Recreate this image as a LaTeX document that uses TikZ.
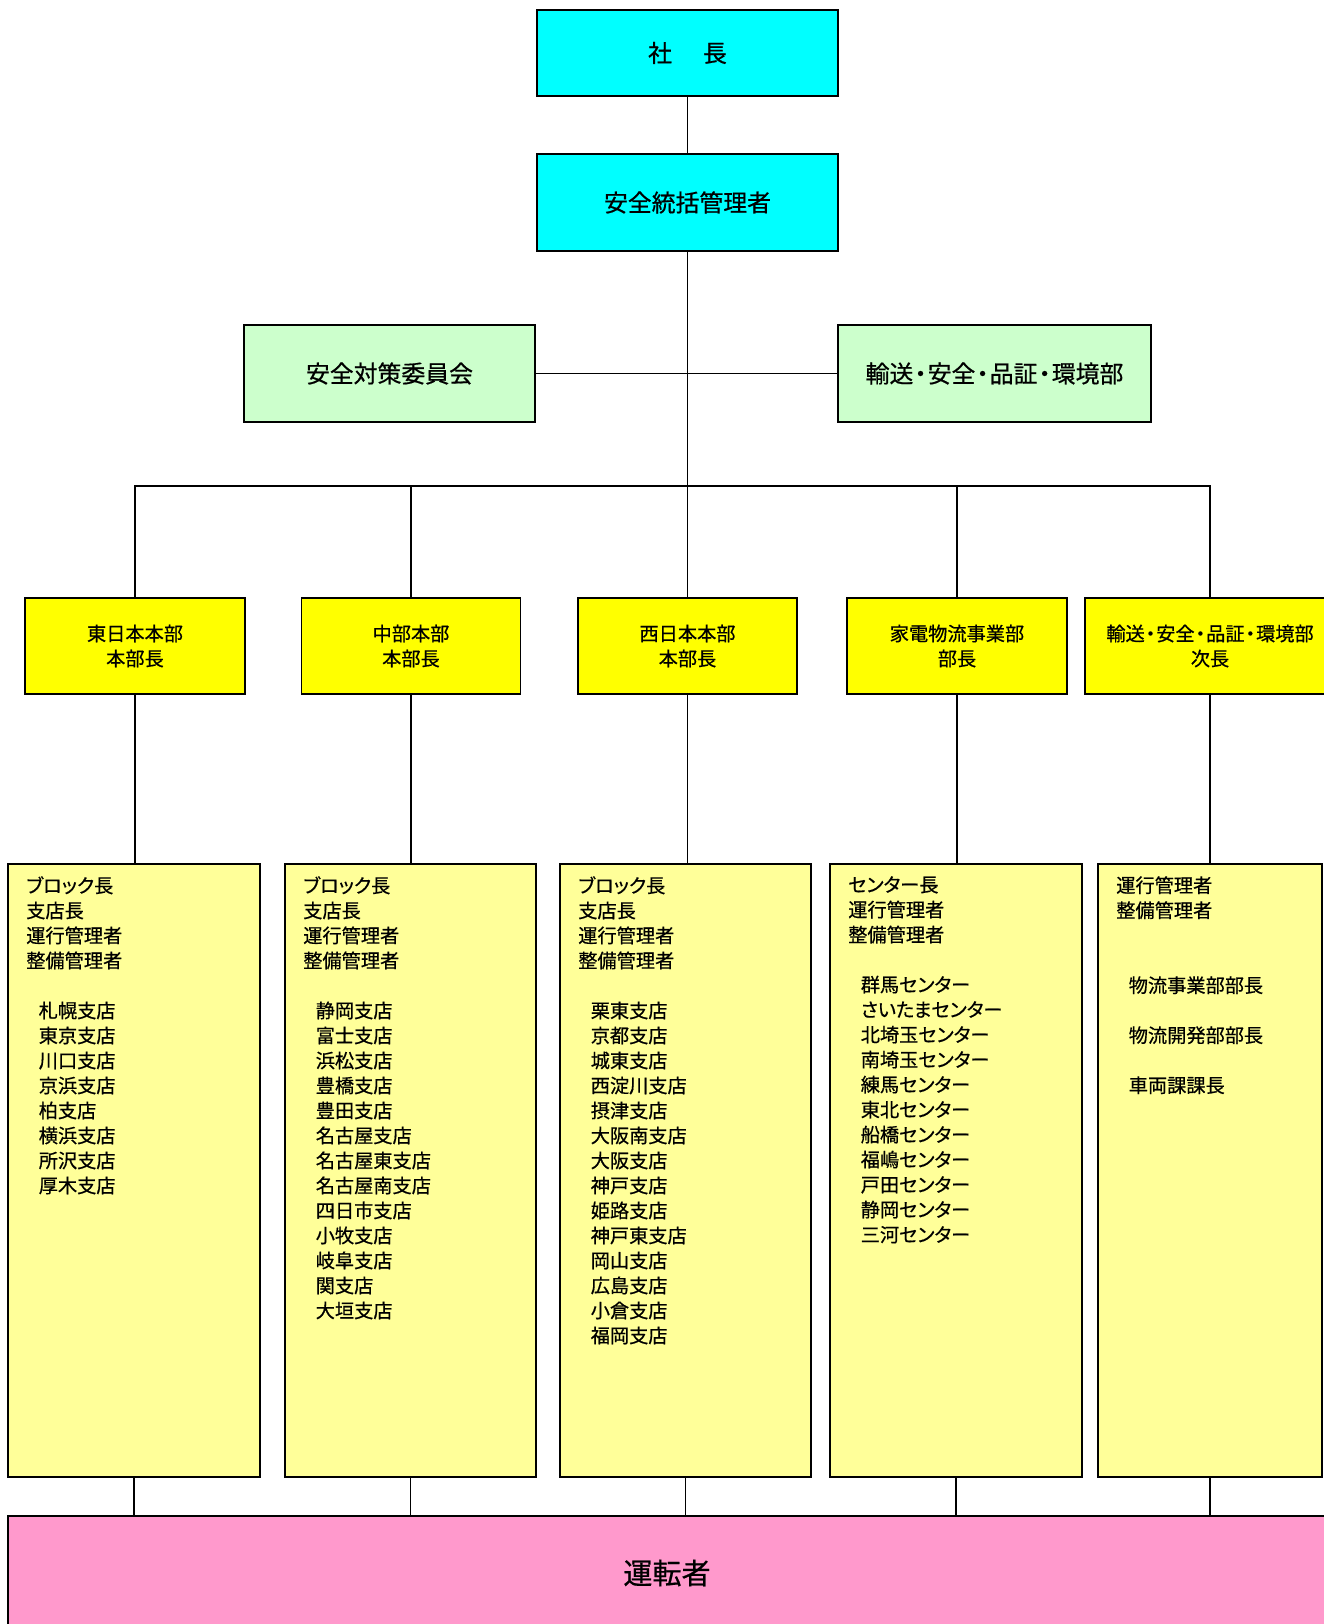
\documentclass[tikz,border=0pt]{standalone}
\usepackage{fontspec}
\setmainfont{Noto Sans CJK JP}[FakeBold=0.6, RawFeature=+palt]
\newlength{\pxu}\setlength{\pxu}{0.75pt}
\newcommand{\indt}{\hspace*{12.5\pxu}}
\newcommand{\skipline}{\\[18.75pt]}
\newcommand{\mdot}{\kern0.05em・\kern0.05em}

\begin{document}
\begin{tikzpicture}[x=0.75pt, y=-0.75pt,
  box/.style={draw, line width=1.2pt, inner sep=0pt, outer sep=0pt},
  topbox/.style={box, fill=topcyan, font=\fontsize{17.9}{22}\selectfont},
  sidebox/.style={box, fill=sidegreen, font=\fontsize{17.9}{22}\selectfont},
  headbox/.style={box, fill=headyellow, align=center, minimum height=96\pxu, font=\fontsize{14.4}{18.75}\selectfont},
  listbox/.style={box, fill=listyellow, minimum height=613\pxu},
  listtext/.style={anchor=north west, inner sep=0pt, align=left, font=\fontsize{14.4}{18.75}\selectfont},
  conn/.style={line width=0.9pt},
  busline/.style={line width=1.3pt}]

\definecolor{topcyan}{rgb}{0,1,1}
\definecolor{sidegreen}{rgb}{0.8,1,0.8}
\definecolor{headyellow}{rgb}{1,1,0}
\definecolor{listyellow}{rgb}{1,1,0.6}
\definecolor{driverpink}{rgb}{1,0.6,0.8}

\useasboundingbox (0,0) rectangle (1324,1624);

\node[topbox, minimum width=301\pxu, minimum height=86\pxu] (shacho) at (687.5,53) {社\hspace{1.3em}長};
\node[topbox, minimum width=301\pxu, minimum height=97\pxu] (tokatsu) at (687.5,202.5) {安全統括管理者};

\node[sidebox, minimum width=291\pxu, minimum height=97\pxu] (iinkai) at (389.5,373.5) {安全対策委員会};
\node[sidebox, minimum width=313\pxu, minimum height=97\pxu] (kankyo) at (994.5,373.5) {輸送\mdot{}安全\mdot{}品証\mdot{}環境部};

\coordinate (bus) at (687.5,486);

\node[headbox, minimum width=220\pxu] (higashi) at (135,646) {東日本本部\\本部長};
\node[headbox, minimum width=219\pxu] (chubu) at (411,646) {中部本部\\本部長};
\node[headbox, minimum width=219\pxu] (nishi) at (687.5,646) {西日本本部\\本部長};
\node[headbox, minimum width=220\pxu] (kaden) at (957,646) {家電物流事業部\\部長};
\node[headbox, minimum width=250\pxu] (jicho) at (1210,646) {輸送\mdot{}安全\mdot{}品証\mdot{}環境部\\次長};

\node[listbox, minimum width=252\pxu] (higashilist) at (134,1170.5) {};
\node[listbox, minimum width=251\pxu] (chubulist) at (410.5,1170.5) {};
\node[listbox, minimum width=251\pxu] (nishilist) at (685.5,1170.5) {};
\node[listbox, minimum width=252\pxu] (kadenlist) at (956,1170.5) {};
\node[listbox, minimum width=224\pxu] (jicholist) at (1210,1170.5) {};

\node[listtext] (higashitext) at ([shift={(18,12)}]higashilist.north west) {ブロック長\\支店長\\運行管理者\\整備管理者\skipline
  \indt{}札幌支店\\\indt{}東京支店\\\indt{}川口支店\\\indt{}京浜支店\\\indt{}柏支店\\\indt{}横浜支店\\\indt{}所沢支店\\\indt{}厚木支店};
\node[listtext] (chubutext) at ([shift={(18,12)}]chubulist.north west) {ブロック長\\支店長\\運行管理者\\整備管理者\skipline
  \indt{}静岡支店\\\indt{}富士支店\\\indt{}浜松支店\\\indt{}豊橋支店\\\indt{}豊田支店\\\indt{}名古屋支店\\\indt{}名古屋東支店\\
  \indt{}名古屋南支店\\\indt{}四日市支店\\\indt{}小牧支店\\\indt{}岐阜支店\\\indt{}関支店\\\indt{}大垣支店};
\node[listtext] (nishitext) at ([shift={(18,12)}]nishilist.north west) {ブロック長\\支店長\\運行管理者\\整備管理者\skipline
  \indt{}栗東支店\\\indt{}京都支店\\\indt{}城東支店\\\indt{}西淀川支店\\\indt{}摂津支店\\\indt{}大阪南支店\\\indt{}大阪支店\\
  \indt{}神戸支店\\\indt{}姫路支店\\\indt{}神戸東支店\\\indt{}岡山支店\\\indt{}広島支店\\\indt{}小倉支店\\\indt{}福岡支店};
\node[listtext] (kadentext) at ([shift={(18,12)}]kadenlist.north west) {センター長\\運行管理者\\整備管理者\skipline
  \indt{}群馬センター\\\indt{}さいたまセンター\\\indt{}北埼玉センター\\\indt{}南埼玉センター\\\indt{}練馬センター\\
  \indt{}東北センター\\\indt{}船橋センター\\\indt{}福嶋センター\\\indt{}戸田センター\\\indt{}静岡センター\\\indt{}三河センター};
\node[listtext] (jichotext) at ([shift={(18,12)}]jicholist.north west) {運行管理者\\整備管理者\\[37.5pt]
  \indt{}物流事業部部長\skipline \indt{}物流開発部部長\skipline \indt{}車両課課長};

\node[box, fill=driverpink, minimum width=1318\pxu, minimum height=114\pxu, font=\fontsize{21.8}{26}\selectfont] (untensha) at (667,1573) {運転者};

% top of the tree
\draw[conn] (shacho.south) -- (tokatsu.north);
\draw[conn] (tokatsu.south) -- (bus);
\draw[busline] (iinkai.east) -- (kankyo.west);
\draw[busline] (higashi.north |- bus) -- (jicho.north |- bus);

\draw[conn] (bus) -| (higashi.north);
\draw[conn] (bus) -| (chubu.north);
\draw[conn] (bus) -| (nishi.north);
\draw[conn] (bus) -| (kaden.north);
\draw[conn] (bus) -| (jicho.north);

\draw[conn] (higashi.south) -- (higashi.south |- higashilist.north);
\draw[conn] (chubu.south) -- (chubu.south |- chubulist.north);
\draw[conn] (nishi.south) -- (nishi.south |- nishilist.north);
\draw[conn] (kaden.south) -- (kaden.south |- kadenlist.north);
\draw[conn] (jicho.south) -- (jicho.south |- jicholist.north);

\draw[conn] (higashilist.south) -- (higashilist.south |- untensha.north);
\draw[conn] (chubulist.south) -- (chubulist.south |- untensha.north);
\draw[conn] (nishilist.south) -- (nishilist.south |- untensha.north);
\draw[conn] (kadenlist.south) -- (kadenlist.south |- untensha.north);
\draw[conn] (jicholist.south) -- (jicholist.south |- untensha.north);

\end{tikzpicture}
\end{document}
